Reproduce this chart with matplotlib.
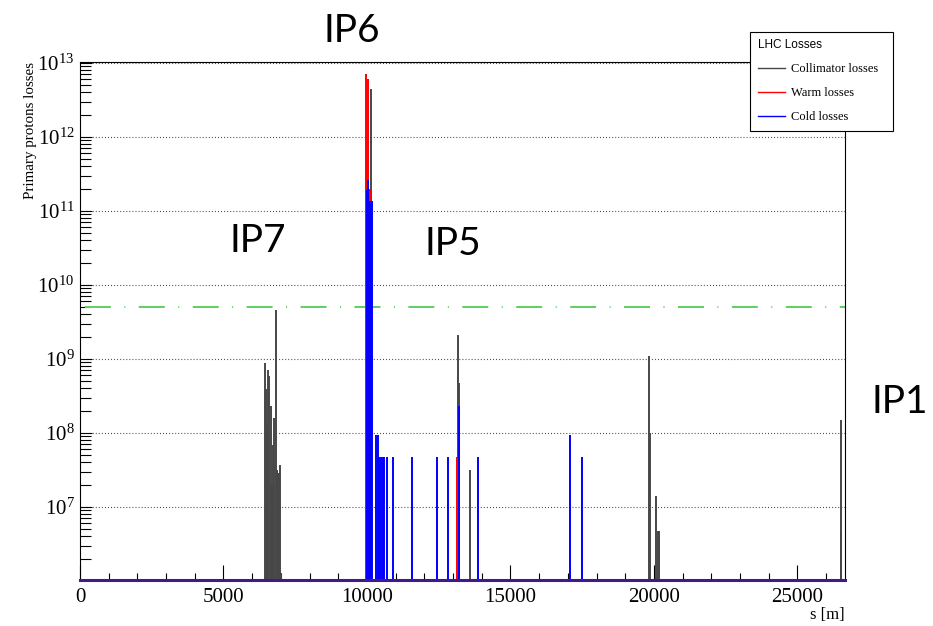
import numpy as np
import matplotlib.pyplot as plt
from matplotlib.ticker import LogLocator, MultipleLocator, FuncFormatter, NullFormatter
from matplotlib.lines import Line2D

plt.rcParams['lines.scale_dashes'] = False
plt.rcParams['font.family'] = 'Liberation Serif'
plt.rcParams['mathtext.fontset'] = 'custom'
plt.rcParams['mathtext.rm'] = 'Liberation Serif'
plt.rcParams['mathtext.it'] = 'Liberation Serif:italic'

# loss positions along the ring s [m] and number of lost primary protons
coll_s = [6452, 6475, 6490, 6519, 6540, 6564, 6600, 6640, 6662, 6690, 6720, 6750, 6774, 6819,
          6850, 6878, 6910, 6937, 6973, 7018, 10154, 13190, 13215, 13582, 19843, 19870, 20077,
          20135, 20180, 26512, 26536]
coll_v = [8.9e8, 1.5e8, 3.9e8, 1.3e8, 1.9e7, 7.1e8, 5.8e8, 1.9e7, 2.3e8, 2.0e7, 6.9e7, 1.9e7,
          1.6e8, 4.6e9, 3.2e7, 3.2e7, 2.9e7, 2.9e7, 3.7e7, 1.3e6, 4.4e12, 2.1e9, 4.7e8, 3.2e7,
          1.1e9, 1.0e8, 1.4e7, 4.7e6, 4.7e6, 4.7e6, 1.5e8]

warm_s = [9968, 10000, 10049, 10100, 13140]
warm_v = [7.1e12, 5.0e11, 6.0e12, 2.0e11, 4.7e7]

cold_s = [10004, 10049, 10100, 10150, 10185, 10300, 10370, 10415, 10490, 10550, 10610, 10710,
          10922, 11568, 12441, 12839, 13209, 13872, 17063, 17493]
cold_v = [1.9e11, 2.6e11, 1.35e11, 1.35e11, 1.35e11, 9.3e7, 9.3e7, 4.7e7, 4.7e7, 4.7e7, 4.7e7, 4.7e7,
          4.7e7, 4.7e7, 4.7e7, 4.7e7, 2.3e8, 4.7e7, 9.3e7, 4.7e7]

threshold = 5e9
ring_length = 26659
y_floor = 1.03e6
y_top = 1.03e13
decades = [1e7, 1e8, 1e9, 1e10, 1e11, 1e12, 1e13]

ip_names = ['IP6', 'IP7', 'IP5', 'IP1']

coll_color = '#474747'
warm_color = '#ff0000'
cold_color = '#0000ff'

fig = plt.figure(figsize=(9.33, 6.26), dpi=100)
ax = fig.add_axes([80 / 933, 46 / 626, 765 / 933, 518 / 626])

ax.vlines(coll_s, y_floor, coll_v, colors=coll_color, linewidth=1.4, zorder=3)
ax.vlines(warm_s, y_floor, warm_v, colors=warm_color, linewidth=1.4, zorder=4)
ax.vlines(cold_s, y_floor, cold_v, colors=cold_color, linewidth=1.4, zorder=5)
ax.axhline(y_floor, color='#401a8c', linewidth=2.2, zorder=6, clip_on=False)
ax.axhline(threshold, color='#62d062', linewidth=1.45, zorder=2,
           linestyle=(35.3, (18.7, 9.7, 0.72, 9.7)))

ax.set_yscale('log')
ax.set_xlim(0, ring_length)
ax.set_ylim(y_floor, y_top)

ax.set_yticks(decades)
ax.yaxis.set_minor_locator(LogLocator(base=10, subs=np.arange(2, 10), numticks=20))
ax.yaxis.set_major_formatter(FuncFormatter(lambda v, p: r'$10^{%d}$' % round(np.log10(v))))
ax.yaxis.set_minor_formatter(NullFormatter())
ax.xaxis.set_major_locator(MultipleLocator(5000))
ax.xaxis.set_minor_locator(MultipleLocator(1000))

ax.tick_params(axis='both', which='both', direction='in', top=False, right=False,
               width=0.8, labelsize=15, colors='black')
ax.tick_params(axis='x', which='major', length=10.8, pad=6)
ax.tick_params(axis='x', which='minor', length=5.4)
ax.tick_params(axis='y', which='major', length=8.6, pad=4)
ax.tick_params(axis='y', which='minor', length=8.0)

ax.yaxis.grid(True, which='major', linestyle=(0, (0.7, 1.5)), color='#444444', linewidth=0.8)
ax.xaxis.grid(False)
for sp in ax.spines.values():
    sp.set_linewidth(0.8)
    sp.set_color('black')

ax.set_ylabel('Primary protons losses', fontsize=10.8, loc='top', labelpad=0)
ax.set_xlabel('s [m]', fontsize=12, loc='right', labelpad=0)

handles = [Line2D([], [], color=coll_color, linewidth=1.0),
           Line2D([], [], color=warm_color, linewidth=1.0),
           Line2D([], [], color=cold_color, linewidth=1.0)]
leg = fig.legend(handles, ['Collimator losses', 'Warm losses', 'Cold losses'],
                 loc='upper left', bbox_to_anchor=(750 / 933, 1 - 32 / 626 - 0.01, 143 / 933, 0.01),
                 mode='expand', borderaxespad=0, fontsize=9, frameon=True, fancybox=False,
                 edgecolor='black', framealpha=1, handlelength=2.2, handletextpad=0.5,
                 labelspacing=0.95, borderpad=0.6, title='LHC Losses', alignment='left',
                 title_fontproperties={'family': 'Liberation Sans', 'size': 8.5})
leg.get_frame().set_linewidth(0.8)

ip_pos = [(352, 31), (258, 241), (453, 244), (900, 402)]
for name, (px, py) in zip(ip_names, ip_pos):
    fig.text(px / 933, 1 - py / 626, name, fontsize=28, family='Lato',
             ha='center', va='center')

fig.savefig('out.png', dpi=100)
